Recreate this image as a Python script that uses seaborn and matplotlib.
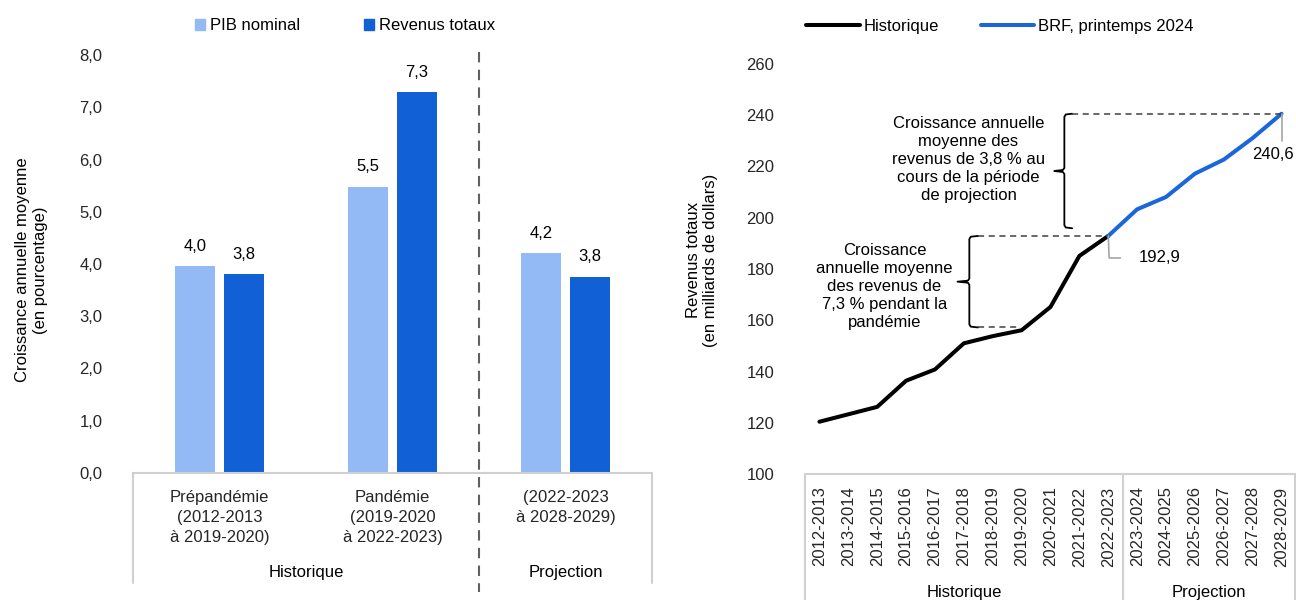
import numpy as np
import pandas as pd
import matplotlib
matplotlib.use("Agg")
import matplotlib.pyplot as plt
import seaborn as sns
from matplotlib.lines import Line2D
from matplotlib.patches import Patch

# --- données : graphique de gauche (croissance annuelle moyenne, %) ---
periodes = ["Prépandémie\n(2012-2013\nà 2019-2020)",
            "Pandémie\n(2019-2020\nà 2022-2023)",
            "(2022-2023\nà 2028-2029)"]
series_noms = ["PIB nominal", "Revenus totaux"]
pib_nominal = [3.96, 5.48, 4.21]
revenus_croissance = [3.80, 7.29, 3.76]
ticks_gauche = [0, 1, 2, 3, 4, 5, 6, 7, 8]

# --- données : graphique de droite (revenus totaux, G$) ---
annees = ["2012-2013", "2013-2014", "2014-2015", "2015-2016", "2016-2017",
          "2017-2018", "2018-2019", "2019-2020", "2020-2021", "2021-2022",
          "2022-2023", "2023-2024", "2024-2025", "2025-2026", "2026-2027",
          "2027-2028", "2028-2029"]
revenus_totaux = [120.4, 123.3, 126.2, 136.4, 140.8, 151.0, 153.8, 156.1,
                  165.2, 185.1, 192.9, 203.3, 208.1, 217.2, 222.7, 231.1, 240.6]
n_historique = 11  # 2012-2013 à 2022-2023
ticks_droite = [100, 120, 140, 160, 180, 200, 220, 240, 260]

C_PIB = "#93BAF5"
C_REV = "#1160D6"
C_BRF = "#1A66DA"
GRIS = "#D0D0D0"

sns.set_theme(style="white")
plt.rcParams["font.family"] = ["Liberation Sans", "DejaVu Sans"]
plt.rcParams["text.color"] = "black"

fig = plt.figure(figsize=(12.96, 6), dpi=100)
ax1 = fig.add_axes([133 / 1296, 1 - 473 / 600, (652 - 133) / 1296, (473 - 55) / 600])
ax2 = fig.add_axes([805 / 1296, 1 - 474 / 600, (1296 - 805) / 1296, (474 - 64) / 600])


def virgule(v, fmt="{:.1f}"):
    return fmt.format(v).replace(".", ",")


# ---------------- graphique de gauche ----------------
df_bar = pd.DataFrame({
    "periode": periodes * 2,
    "serie": [series_noms[0]] * 3 + [series_noms[1]] * 3,
    "valeur": pib_nominal + revenus_croissance,
})
sns.barplot(data=df_bar, x="periode", y="valeur", hue="serie",
            palette=[C_PIB, C_REV], saturation=1, width=0.566, gap=0.2,
            edgecolor="none", linewidth=0, legend=False, ax=ax1)
for cont in ax1.containers:
    ax1.bar_label(cont, labels=[virgule(v) for v in cont.datavalues],
                  padding=9, fontsize=12)

ax1.set_xlim(-0.5, 2.5)
ax1.set_ylim(0, 8)
ax1.set_yticks(ticks_gauche)
ax1.set_yticklabels([virgule(v) for v in ticks_gauche], fontsize=12)
ax1.set_xticks(range(len(periodes)))
ax1.set_xticklabels(periodes, fontsize=12, linespacing=1.45)
ax1.set_xlabel("")
ax1.set_ylabel("")
ax1.tick_params(axis="both", length=0)
ax1.tick_params(axis="x", pad=12)
ax1.tick_params(axis="y", pad=22)
for s in ["left", "right", "top"]:
    ax1.spines[s].set_visible(False)
ax1.spines["bottom"].set_color(GRIS)
ax1.spines["bottom"].set_linewidth(1.5)

tr1 = ax1.get_xaxis_transform()
for xv in [-0.5, 2.5]:
    ax1.plot([xv, xv], [0, -0.263], transform=tr1, color=GRIS, lw=1.5,
             clip_on=False)
ax1.plot([1.5, 1.5], [1.007, -0.285], transform=tr1, color="#606060", lw=1.5,
         ls=(0, (5, 3.5)), clip_on=False)
ax1.text(0.5, -0.237, "Historique", transform=tr1, ha="center", va="center",
         fontsize=12)
ax1.text(2.0, -0.237, "Projection", transform=tr1, ha="center", va="center",
         fontsize=12)

fig.text(32 / 1296, 1 - 270 / 600, "Croissance annuelle moyenne\n(en pourcentage)",
         rotation=90, ha="center", va="center", fontsize=12, linespacing=1.25)

fig.legend(handles=[Patch(color=C_PIB), Patch(color=C_REV)], labels=series_noms,
           loc="center", bbox_to_anchor=(345 / 1296, 1 - 26 / 600), ncol=2,
           frameon=False, fontsize=12, handlelength=0.6, handleheight=0.6,
           handletextpad=0.3, columnspacing=3.8)

# ---------------- graphique de droite ----------------
pos = np.arange(len(annees))
df_hist = pd.DataFrame({"x": pos[:n_historique], "y": revenus_totaux[:n_historique]})
df_proj = pd.DataFrame({"x": pos[n_historique - 1:], "y": revenus_totaux[n_historique - 1:]})
sns.lineplot(data=df_hist, x="x", y="y", color="black", lw=2.9, ax=ax2)
sns.lineplot(data=df_proj, x="x", y="y", color=C_BRF, lw=2.9, ax=ax2)

ax2.set_xlim(-0.5, len(annees) - 0.5)
ax2.set_ylim(100, 260)
ax2.set_yticks(ticks_droite)
ax2.set_yticklabels([str(v) for v in ticks_droite], fontsize=12)
ax2.set_xticks(pos)
ax2.set_xticklabels(annees, rotation=90, fontsize=12)
ax2.set_xlabel("")
ax2.set_ylabel("")
ax2.tick_params(axis="both", length=0)
ax2.tick_params(axis="x", pad=9)
ax2.tick_params(axis="y", pad=22)
for s in ["left", "right", "top"]:
    ax2.spines[s].set_visible(False)
ax2.spines["bottom"].set_color(GRIS)
ax2.spines["bottom"].set_linewidth(1.5)

tr2 = ax2.get_xaxis_transform()
for xv in [-0.5, n_historique - 0.5, len(annees) - 0.55]:
    ax2.plot([xv, xv], [0, -0.32], transform=tr2, color=GRIS, lw=1.5,
             clip_on=False)
ax2.text((n_historique - 1) / 2, -0.288, "Historique", transform=tr2,
         ha="center", va="center", fontsize=12)
ax2.text((n_historique + len(annees) - 1) / 2, -0.288, "Projection",
         transform=tr2, ha="center", va="center", fontsize=12)

fig.text(702 / 1296, 1 - 260 / 600, "Revenus totaux\n(en milliards de dollars)",
         rotation=90, ha="center", va="center", fontsize=12, linespacing=1.25)


def accolade(ax, x, haut, bas, pointe, crochet=0.3):
    mil = (haut + bas) / 2
    xs = [x + crochet, x + 0.05, x, x, x - 0.05, pointe, x - 0.05, x, x, x + 0.05, x + crochet]
    ys = [haut, haut - 0.3, haut - 1.2, mil + 1.2, mil + 0.4, mil, mil - 0.4,
          mil - 1.2, bas + 1.2, bas + 0.3, bas]
    ax.plot(xs, ys, color="black", lw=1.3, solid_joinstyle="round")


# accolade de la période de projection
fin = revenus_totaux[-1]
base_proj = 195.9
accolade(ax2, 8.48, fin, base_proj, 8.13, 0.27)
ax2.plot([8.75, pos[-1]], [fin, fin], color="#404040", lw=1.1, ls=(0, (4, 3)))
ax2.text(5.16, 222.8, "Croissance annuelle\nmoyenne des\nrevenus de 3,8 % au\n"
         "cours de la période\nde projection", ha="center", va="center",
         fontsize=12, linespacing=1.25)

# accolade de la pandémie
pic = revenus_totaux[n_historique - 1]
base_pand = 157.2
accolade(ax2, 5.19, pic, base_pand, 4.78, 0.3)
ax2.plot([5.49, n_historique - 1], [pic, pic], color="#404040", lw=1.1, ls=(0, (4, 3)))
ax2.plot([5.49, 6.85], [base_pand, base_pand], color="#404040", lw=1.1, ls=(0, (4, 3)))
ax2.text(2.25, 173.3, "Croissance\nannuelle moyenne\ndes revenus de\n"
         "7,3 % pendant la\npandémie", ha="center", va="center",
         fontsize=12, linespacing=1.25)

# étiquettes de valeurs
ax2.plot([n_historique - 1, n_historique - 0.97, n_historique - 0.58],
         [pic, 184.3, 184.3], color="#A6A6A6", lw=1.2)
ax2.text(n_historique + 0.07, 184.3, virgule(pic), ha="left", va="center", fontsize=12)
ax2.plot([pos[-1], pos[-1]], [fin, 229.9], color="#A6A6A6", lw=1.2)
ax2.text(15.7, 224.8, virgule(fin), ha="center", va="center", fontsize=12)

fig.legend(handles=[Line2D([], [], color="black", lw=2.9),
                    Line2D([], [], color=C_BRF, lw=2.9)],
           labels=["Historique", "BRF, printemps 2024"], loc="center",
           bbox_to_anchor=(1000 / 1296, 1 - 26 / 600), ncol=2, frameon=False,
           fontsize=12, handlelength=3.2, handletextpad=0.25, columnspacing=2.5)

fig.savefig("out.png", dpi=100)
